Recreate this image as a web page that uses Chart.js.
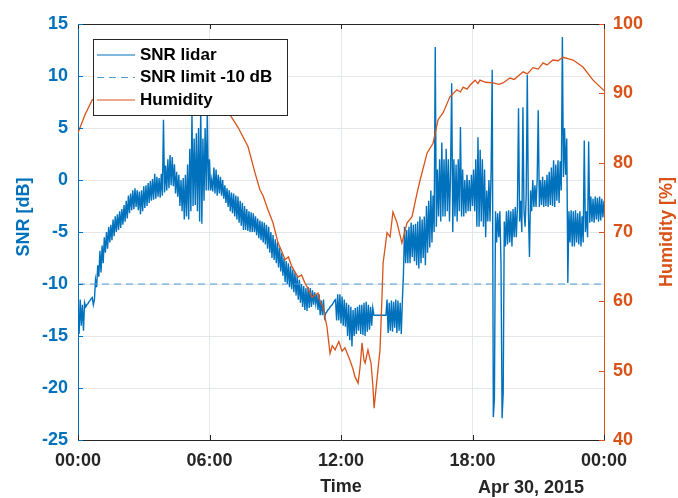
<!DOCTYPE html>
<html lang="en">
<head>
  <meta charset="UTF-8">
  <title>SNR lidar and humidity</title>
  <script src="https://cdn.jsdelivr.net/npm/chart.js"></script>
  <style>
    html, body { margin: 0; padding: 0; background: #fff; }
    .chart-container { position: relative; width: 678px; height: 498px; }
  </style>
</head>
<body>
  <div class="chart-container">
    <canvas id="myChart"></canvas>
  </div>

  <script>
    // x axis ticks (hours of the day)
    const tickLabels = ['00:00', '06:00', '12:00', '18:00', '00:00'];
    const dateLabel = 'Apr 30, 2015';
    const seriesNames = ['SNR lidar', 'SNR limit -10 dB', 'Humidity'];

    // SNR lidar [dB], one sample every 0.05 h, one row per hour
    const snrStep = 0.05;
    const snrValues = [
      -12.2, -14.8, -11.5, -14.0, -12.0, -14.5, -11.8, -12.2, -12.0, -11.9, -11.7, -11.6, -11.4, -11.3, -12.0, -11.5, -9.6, -10.3, -8.2, -9.3,
      -6.8, -8.9, -6.3, -8.0, -5.5, -7.0, -5.0, -6.6, -4.5, -6.0, -4.3, -5.8, -3.8, -5.4, -3.5, -5.0, -3.3, -4.8, -3.0, -4.6,
      -2.8, -4.3, -2.4, -4.0, -2.0, -3.7, -1.5, -3.2, -1.3, -2.9, -1.0, -2.8, -0.8, -2.6, -1.0, -2.9, -1.1, -3.3, -1.0, -3.0,
      -0.6, -2.7, -0.5, -2.5, -0.3, -2.2, -0.1, -2.0, 0.1, -1.9, 0.6, -1.8, 0.3, -1.6, 0.2, -1.7, 0.6, -1.5, 5.8, -1.2,
      1.4, -1.0, 2.0, -0.8, 2.4, -0.5, 2.2, -0.6, 1.5, -1.3, 0.8, -1.6, 0.5, -2.5, 0.0, -3.0, 0.2, -3.8, 0.5, -3.5,
      1.5, -3.8, 3.0, -3.0, 6.4, -2.5, 4.0, -2.4, 4.5, -3.0, 5.0, -4.0, 7.0, -4.2, 4.0, -2.0, 5.0, -1.0, 6.5, -1.0,
      2.0, -1.0, 0.0, -1.1, 1.2, -1.3, 1.0, -1.5, 0.5, -1.3, 0.3, -1.5, 0.0, -1.8, -0.5, -2.2, -0.8, -2.6, -1.0, -3.0,
      -1.2, -3.2, -1.3, -3.5, -1.5, -3.8, -1.6, -4.1, -2.0, -4.4, -2.2, -4.8, -2.5, -4.8, -2.8, -4.9, -3.0, -5.0, -3.1, -5.0,
      -3.2, -5.0, -3.5, -5.3, -3.7, -5.6, -3.9, -5.8, -4.0, -6.0, -4.1, -6.2, -4.3, -6.6, -4.5, -7.0, -5.0, -7.5, -5.3, -7.7,
      -5.7, -8.0, -6.0, -8.4, -6.5, -8.8, -7.0, -9.2, -7.5, -9.8, -7.8, -10.0, -8.0, -10.3, -8.3, -10.5, -8.6, -10.8, -8.9, -11.1,
      -9.2, -11.5, -9.6, -11.8, -10.0, -12.2, -10.2, -12.5, -10.4, -12.6, -10.3, -12.3, -10.4, -12.2, -10.6, -12.0, -10.8, -11.9, -11.0, -12.5,
      -11.0, -13.0, -11.6, -13.0, -11.5, -13.2, -12.8, -12.7, -12.5, -12.4, -12.2, -12.1, -12.0, -11.8, -11.6, -11.5, -13.5, -11.0, -13.5, -11.0,
      -13.8, -11.2, -14.0, -11.5, -14.1, -11.8, -15.0, -12.0, -15.4, -12.2, -16.0, -12.5, -15.0, -12.3, -14.8, -12.2, -14.5, -12.0, -14.8, -12.0,
      -14.9, -11.8, -15.0, -11.7, -14.6, -12.0, -14.4, -12.2, -14.0, -12.3, -13.0, -13.0, -13.0, -13.0, -13.0, -13.0, -13.0, -13.0, -13.0, -13.0,
      -13.0, -13.0, -11.5, -14.7, -11.8, -14.5, -11.6, -14.6, -11.7, -14.2, -11.5, -14.7, -11.6, -14.5, -11.8, -14.8, -11.6, -9.0, -4.5, -8.0,
      -4.8, -8.0, -4.5, -8.0, -4.1, -7.4, -4.3, -7.8, -4.2, -8.2, -4.0, -8.5, -3.5, -8.0, -3.8, -7.5, -3.5, -8.2, -2.5, -7.0,
      -2.0, -6.5, -1.0, -6.0, -1.5, -5.0, 12.8, -4.5, 1.0, -3.5, 2.0, -4.0, 3.6, -3.5, 2.0, -3.5, 3.0, -3.0, 2.0, -4.0,
      1.0, 9.3, -5.0, 2.0, -3.5, 1.5, -4.0, 2.0, -3.0, 5.1, -3.5, 1.0, -3.5, 0.0, -3.2, 0.5, -3.0, 0.0, -3.0, 0.5,
      -2.5, 1.0, -3.0, 2.0, -4.5, 4.1, -4.5, 2.9, -4.0, 2.0, -4.5, 1.0, -5.5, -1.0, -4.0, 0.0, -4.0, 1.0, 10.6, -22.8,
      -21.0, -3.0, -6.0, -3.2, -5.5, -3.0, -8.0, -22.9, -20.5, -4.0, -6.4, -3.0, -6.2, -2.9, -6.0, -3.0, -6.4, -2.8, -5.5, -2.6,
      -5.5, -2.6, 6.9, -4.0, -2.0, -5.0, 7.0, -3.0, -4.5, -1.5, 10.1, -3.0, -7.4, -1.0, -3.0, 0.0, -2.6, -0.5, -2.6, 0.0,
      6.7, -2.6, 0.0, -2.4, 0.3, -2.6, 0.0, -2.5, 0.5, -2.6, 0.8, -2.4, 1.2, -2.5, 1.9, -2.6, 1.5, -2.0, 1.9, -2.2,
      1.8, -1.0, 13.75, 0.3, 5.0, 0.5, 4.0, -9.9, -3.0, -6.0, -2.9, -6.4, -3.0, -6.4, -2.9, -6.0, -3.2, -6.2, -3.0, -6.4,
      -3.5, -6.0, 3.8, -5.0, -3.0, -5.5, 3.7, -4.1, -1.6, -4.0, -1.8, -4.1, -1.6, -3.8, -1.7, -4.0, -1.6, -3.9, -1.8, -3.6,
      -2.0
    ];

    // SNR limit line
    const limitTime = [0, 24];
    const limitValues = [-10, -10];

    // Humidity [%]
    const humTime = [
      0.00, 0.32, 0.64, 1.0, 2.0, 3.3, 4.5, 5.5, 6.25, 6.94,
      7.30, 7.76, 8.08, 8.30, 8.45, 8.62, 8.90, 9.13, 9.30, 9.45,
      9.60, 9.76, 10.04, 10.2, 10.36, 10.5, 10.68, 10.95, 11.05, 11.18,
      11.36, 11.50, 11.6, 11.73, 11.9, 12.05, 12.18, 12.41, 12.55, 12.64,
      12.78, 12.87, 12.96, 13.05, 13.10, 13.23, 13.30, 13.37, 13.45, 13.51,
      13.64, 13.78, 13.87, 13.92, 14.10, 14.24, 14.37, 14.56, 14.78, 15.01,
      15.24, 15.47, 15.61, 15.93, 16.20, 16.43, 16.66, 16.97, 17.29, 17.45,
      17.57, 17.75, 17.89, 18.12, 18.25, 18.34, 18.6, 18.94, 19.2, 19.39,
      19.71, 19.9, 20.31, 20.5, 20.76, 21.0, 21.22, 21.4, 21.67, 21.9,
      22.13, 22.35, 22.59, 23.04, 23.50, 24.0
    ];
    const humValues = [
      84.3, 86.9, 89.0, 89.8, 90.4, 90.2, 90.0, 89.6, 88.5, 86.9,
      85.1, 82.3, 78.5, 76.1, 75.2, 73.6, 71.3, 68.4, 67.2, 66.0,
      66.4, 65.0, 63.5, 63.8, 62.6, 61.8, 60.6, 61.2, 60.0, 59.2,
      56.3, 52.5, 53.6, 53.0, 54.2, 52.8, 53.3, 51.5, 50.2, 49.1,
      48.2, 50.5, 54.0, 51.5, 51.1, 53.0, 52.0, 51.1, 48.0, 44.6,
      48.7, 53.0, 60.6, 65.5, 69.9, 69.3, 72.9, 71.3, 68.4, 71.3,
      72.2, 75.6, 77.5, 81.4, 82.8, 86.2, 87.2, 89.5, 90.5, 90.2,
      90.9, 90.6, 91.2, 91.9, 91.4, 91.9, 91.6, 91.5, 91.3, 91.5,
      92.2, 92.0, 93.1, 92.8, 93.7, 93.5, 94.4, 94.1, 94.8, 94.7,
      95.2, 95.0, 94.8, 93.8, 91.9, 90.4
    ];

    const blue = '#0072BD';
    const orange = '#D95319';
    const dark = '#262626';
    const gridColor = '#e3e6ea';
    const fontFamily = '"Liberation Sans", Arial, sans-serif';

    const snrData = snrValues.map((v, i) => ({ x: i * snrStep, y: v }));
    const limitData = limitTime.map((t, i) => ({ x: t, y: limitValues[i] }));
    const humData = humTime.map((t, i) => ({ x: t, y: humValues[i] }));

    // legend box, axis titles, date label and inward tick marks
    const extras = {
      id: 'extras',
      afterDatasetsDraw(chart) {
        const { ctx, chartArea: a, scales } = chart;
        ctx.save();

        // top frame line
        ctx.strokeStyle = dark;
        ctx.lineWidth = 1;
        ctx.beginPath();
        ctx.moveTo(a.left, a.top + 0.5);
        ctx.lineTo(a.right, a.top + 0.5);
        ctx.stroke();

        // inward ticks
        scales.x.ticks.forEach((t) => {
          const px = Math.round(scales.x.getPixelForValue(t.value)) + 0.5;
          ctx.beginPath();
          ctx.moveTo(px, a.bottom); ctx.lineTo(px, a.bottom - 5);
          ctx.moveTo(px, a.top); ctx.lineTo(px, a.top + 5);
          ctx.stroke();
        });
        ctx.strokeStyle = blue;
        scales.y.ticks.forEach((t) => {
          const py = Math.round(scales.y.getPixelForValue(t.value)) + 0.5;
          ctx.beginPath();
          ctx.moveTo(a.left, py); ctx.lineTo(a.left + 5, py);
          ctx.stroke();
        });
        ctx.strokeStyle = orange;
        scales.y2.ticks.forEach((t) => {
          const py = Math.round(scales.y2.getPixelForValue(t.value)) + 0.5;
          ctx.beginPath();
          ctx.moveTo(a.right, py); ctx.lineTo(a.right - 5, py);
          ctx.stroke();
        });

        // legend
        const lx = 93.5, ly = 39.5, lw = 194, lh = 76;
        ctx.fillStyle = '#fff';
        ctx.fillRect(lx, ly, lw, lh);
        ctx.strokeStyle = dark;
        ctx.lineWidth = 1;
        ctx.strokeRect(lx, ly, lw, lh);
        ctx.font = 'bold 17px ' + fontFamily;
        ctx.textBaseline = 'middle';
        chart.data.datasets.forEach((ds, i) => {
          const y = 55 + i * 22.5;
          ctx.strokeStyle = ds.borderColor;
          ctx.lineWidth = Math.min(ds.borderWidth, 1.2);
          ctx.setLineDash(ds.borderDash || []);
          ctx.beginPath();
          ctx.moveTo(97, y); ctx.lineTo(135, y);
          ctx.stroke();
          ctx.setLineDash([]);
          ctx.fillStyle = '#000';
          ctx.fillText(ds.label, 140, y);
        });

        // y axis titles
        ctx.font = 'bold 18px ' + fontFamily;
        ctx.textAlign = 'center';
        ctx.fillStyle = blue;
        ctx.translate(24, 217);
        ctx.rotate(-Math.PI / 2);
        ctx.fillText('SNR [dB]', 0, 0);
        ctx.setTransform(1, 0, 0, 1, 0, 0);
        ctx.fillStyle = orange;
        ctx.translate(667, 232);
        ctx.rotate(-Math.PI / 2);
        ctx.fillText('Humidity [%]', 0, 0);
        ctx.setTransform(1, 0, 0, 1, 0, 0);

        // date under the time axis
        ctx.fillStyle = dark;
        ctx.fillText(dateLabel, 531, 488);
        ctx.restore();
      }
    };

    const ctx = document.getElementById('myChart').getContext('2d');
    const myChart = new Chart(ctx, {
      type: 'line',
      data: {
        datasets: [
          {
            label: seriesNames[0],
            data: snrData,
            yAxisID: 'y',
            borderColor: blue,
            borderWidth: 1.4,
            pointRadius: 0,
            order: 2
          },
          {
            label: seriesNames[1],
            data: limitData,
            yAxisID: 'y',
            borderColor: '#4f9bd5',
            borderWidth: 1.2,
            borderDash: [7, 5],
            pointRadius: 0,
            order: 1
          },
          {
            label: seriesNames[2],
            data: humData,
            yAxisID: 'y2',
            borderColor: orange,
            borderWidth: 1.3,
            pointRadius: 0,
            order: 0
          }
        ]
      },
      options: {
        responsive: true,
        maintainAspectRatio: false,
        animation: false,
        layout: { padding: { top: 24, left: 0, right: 0, bottom: 0 } },
        plugins: {
          legend: { display: false },
          tooltip: { enabled: false }
        },
        scales: {
          x: {
            type: 'linear',
            min: 0,
            max: 24,
            afterFit: (s) => { s.height = 58; },
            afterBuildTicks: (s) => { s.ticks = [0, 6, 12, 18, 24].map((v) => ({ value: v })); },
            ticks: {
              padding: 10,
              color: dark,
              font: { family: fontFamily, size: 18, weight: 'bold' },
              maxRotation: 0,
              callback: (value, index) => tickLabels[index]
            },
            grid: { color: gridColor, drawTicks: false },
            border: { color: dark, width: 1 },
            title: {
              display: true,
              text: 'Time',
              color: dark,
              font: { family: fontFamily, size: 18, weight: 'bold' },
              padding: { top: 0, bottom: 0 }
            }
          },
          y: {
            position: 'left',
            min: -25,
            max: 15,
            afterFit: (s) => { s.width = 78; },
            ticks: {
              stepSize: 5,
              padding: 10,
              color: blue,
              font: { family: fontFamily, size: 18, weight: 'bold' }
            },
            grid: { color: gridColor, drawTicks: false },
            border: { color: blue, width: 1 }
          },
          y2: {
            position: 'right',
            min: 40,
            max: 100,
            afterFit: (s) => { s.width = 74; },
            ticks: {
              stepSize: 10,
              padding: 9,
              color: orange,
              font: { family: fontFamily, size: 18, weight: 'bold' }
            },
            grid: { drawOnChartArea: false, drawTicks: false },
            border: { color: orange, width: 1 }
          }
        }
      },
      plugins: [extras]
    });
  </script>
</body>
</html>
